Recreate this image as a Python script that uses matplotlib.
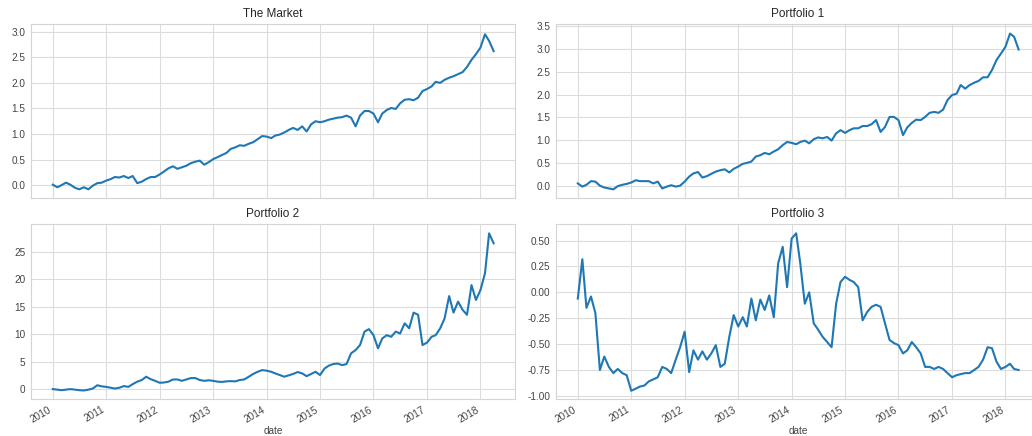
import numpy as np
import pandas as pd
import matplotlib
matplotlib.use('Agg')
import matplotlib.pyplot as plt
import matplotlib.dates as mdates


# monthly samples, Jan 2010 .. Apr 2018
dates = pd.date_range('2010-01-01', periods=100, freq='MS')

market = [
    0.01, -0.04, 0.00, 0.05, 0.01, -0.05, -0.08, -0.04, -0.08, -0.01, 0.04, 0.05,
    0.09, 0.12, 0.16, 0.15, 0.18, 0.14, 0.18, 0.04, 0.07, 0.12, 0.16, 0.16,
    0.21, 0.27, 0.33, 0.37, 0.32, 0.35, 0.38, 0.43, 0.46, 0.48, 0.40, 0.45,
    0.51, 0.55, 0.59, 0.63, 0.71, 0.74, 0.78, 0.77, 0.81, 0.84, 0.90, 0.96,
    0.95, 0.92, 0.97, 0.99, 1.03, 1.08, 1.12, 1.08, 1.15, 1.05, 1.19, 1.25,
    1.23, 1.25, 1.28, 1.30, 1.32, 1.33, 1.36, 1.32, 1.15, 1.36, 1.45, 1.45,
    1.40, 1.23, 1.40, 1.47, 1.51, 1.49, 1.60, 1.67, 1.68, 1.66, 1.71, 1.84,
    1.88, 1.93, 2.02, 2.00, 2.06, 2.10, 2.13, 2.17, 2.21, 2.31, 2.45, 2.56,
    2.69, 2.95, 2.82, 2.62,
]

portfolio_1 = [
    0.05, -0.02, 0.02, 0.10, 0.09, 0.00, -0.04, -0.06, -0.08, -0.01, 0.02, 0.04,
    0.07, 0.12, 0.10, 0.10, 0.10, 0.05, 0.09, -0.06, -0.02, 0.01, -0.02, 0.00,
    0.09, 0.20, 0.27, 0.30, 0.18, 0.21, 0.26, 0.31, 0.34, 0.36, 0.29, 0.37,
    0.42, 0.48, 0.50, 0.53, 0.64, 0.67, 0.72, 0.69, 0.75, 0.80, 0.89, 0.96,
    0.94, 0.91, 0.96, 0.99, 0.93, 1.02, 1.06, 1.04, 1.07, 0.99, 1.15, 1.22,
    1.16, 1.22, 1.26, 1.26, 1.31, 1.31, 1.35, 1.44, 1.18, 1.29, 1.51, 1.51,
    1.44, 1.11, 1.28, 1.38, 1.45, 1.44, 1.51, 1.60, 1.62, 1.60, 1.67, 1.88,
    1.99, 2.02, 2.21, 2.13, 2.21, 2.26, 2.30, 2.38, 2.38, 2.54, 2.76, 2.90,
    3.05, 3.34, 3.27, 2.99,
]

portfolio_2 = [
    0.0, -0.1, -0.2, -0.1, 0.0, -0.1, -0.2, -0.25, -0.1, 0.1, 0.7, 0.5,
    0.4, 0.25, 0.1, 0.25, 0.55, 0.4, 0.9, 1.35, 1.65, 2.25, 1.8, 1.5,
    1.15, 1.2, 1.35, 1.75, 1.75, 1.5, 1.75, 2.0, 2.0, 1.65, 1.5, 1.6,
    1.5, 1.35, 1.3, 1.4, 1.45, 1.4, 1.65, 1.75, 2.25, 2.75, 3.15, 3.45,
    3.35, 3.15, 2.85, 2.55, 2.25, 2.5, 2.75, 3.1, 2.85, 2.35, 2.75, 3.15,
    2.55, 3.75, 4.25, 4.55, 4.65, 4.35, 4.55, 6.5, 7.1, 8.0, 10.45, 10.9,
    9.8, 7.4, 9.2, 9.8, 9.5, 10.45, 10.1, 11.95, 11.05, 13.9, 13.5, 8.0,
    8.45, 9.5, 9.8, 11.05, 12.85, 16.9, 13.9, 15.9, 14.4, 13.5, 18.9, 16.2,
    18.0, 21.05, 28.3, 26.5,
]

portfolio_3 = [
    -0.06, 0.32, -0.15, -0.04, -0.20, -0.75, -0.62, -0.72, -0.78, -0.74, -0.78, -0.80,
    -0.95, -0.93, -0.91, -0.90, -0.86, -0.84, -0.82, -0.72, -0.74, -0.78, -0.65, -0.53,
    -0.38, -0.77, -0.56, -0.65, -0.57, -0.65, -0.59, -0.51, -0.72, -0.69, -0.43, -0.22,
    -0.33, -0.24, -0.33, -0.06, -0.27, -0.07, -0.17, -0.03, -0.24, 0.28, 0.44, 0.05,
    0.52, 0.57, 0.28, -0.11, 0.00, -0.30, -0.36, -0.43, -0.48, -0.53, -0.11, 0.10,
    0.15, 0.12, 0.10, 0.05, -0.27, -0.19, -0.14, -0.12, -0.14, -0.30, -0.46, -0.49,
    -0.51, -0.59, -0.56, -0.48, -0.53, -0.59, -0.72, -0.72, -0.74, -0.72, -0.74, -0.78,
    -0.82, -0.80, -0.79, -0.78, -0.78, -0.75, -0.72, -0.65, -0.53, -0.54, -0.67, -0.74,
    -0.72, -0.69, -0.74, -0.75,
]

titles = ['The Market', 'Portfolio 1', 'Portfolio 2', 'Portfolio 3']
series = [market, portfolio_1, portfolio_2, portfolio_3]

plt.rcParams['font.family'] = ['Liberation Sans', 'DejaVu Sans']

W, H = 1032, 436
fig = plt.figure(figsize=(W / 100, H / 100), dpi=100)


def px_axes(x0, y0, x1, y1, sharex=None):
    # pixel box (top-left origin) -> figure fraction
    return fig.add_axes([x0 / W, 1 - y1 / H, (x1 - x0) / W, (y1 - y0) / H], sharex=sharex)


ax_tl = px_axes(31, 24, 515, 198)
ax_tr = px_axes(556, 24, 1040, 198, sharex=ax_tl)
ax_bl = px_axes(31, 224, 515, 399, sharex=ax_tl)
ax_br = px_axes(556, 224, 1040, 399, sharex=ax_tl)
axes = [ax_tl, ax_tr, ax_bl, ax_br]

ylims = [(-0.25, 3.15), (-0.27, 3.55), (-1.8, 30.0), (-1.03, 0.66)]
yticks = [np.arange(0, 3.01, 0.5), np.arange(0, 3.51, 0.5),
          np.arange(0, 26, 5), np.arange(-1.0, 0.51, 0.25)]
yfmt = ['{:.1f}', '{:.1f}', '{:.0f}', '{:.2f}']

for ax, title, vals, yl, yt, fmt in zip(axes, titles, series, ylims, yticks, yfmt):
    ax.set_facecolor('white')
    ax.plot(dates, vals, color='#1f77b4', lw=1.5)
    ax.set_title(title, fontsize=8.5, color='#262626', pad=5)
    ax.set_ylim(*yl)
    ax.set_yticks(yt)
    ax.set_yticklabels([fmt.format(v) for v in yt])
    ax.grid(True, color='#dcdcdc', lw=0.8)
    ax.set_axisbelow(True)
    for s in ax.spines.values():
        s.set_color('#d4d4d4')
        s.set_linewidth(0.8)
    ax.tick_params(length=0, labelsize=7.2, labelcolor='#444444', pad=4)

ax_tl.set_xlim(pd.Timestamp('2009-08-05'), pd.Timestamp('2018-08-25'))
ax_tl.xaxis.set_major_locator(mdates.YearLocator())
ax_tl.xaxis.set_major_formatter(mdates.DateFormatter('%Y'))

for ax in (ax_tl, ax_tr):
    ax.tick_params(labelbottom=False)

for ax in (ax_bl, ax_br):
    for lbl in ax.get_xticklabels():
        lbl.set_rotation(30)
        lbl.set_ha('right')
    ax.set_xlabel('date', fontsize=7.2, color='#444444', labelpad=1)

fig.savefig('out.png', dpi=100)
